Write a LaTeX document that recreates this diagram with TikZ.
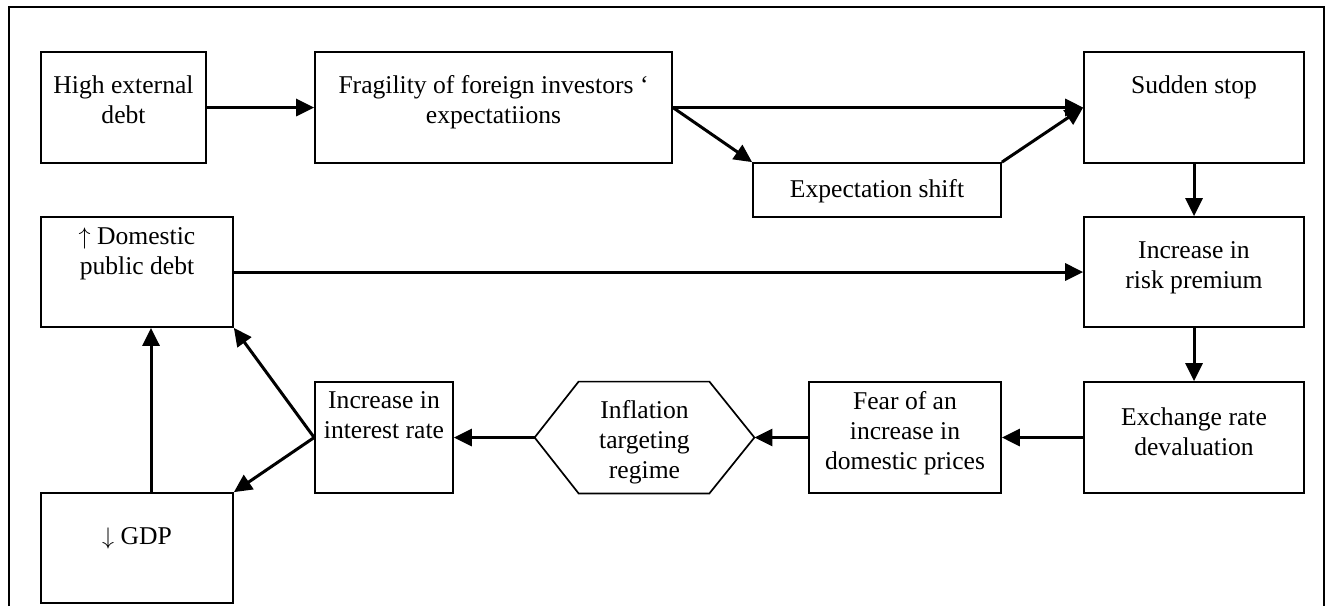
\documentclass[tikz,border=0pt]{standalone}
\usepackage{fontspec}
\setmainfont{Liberation Serif}
\usetikzlibrary{arrows.meta,positioning}

\begin{document}
\begin{tikzpicture}[x=0.5pt,y=-0.5pt,
    box/.style={draw,line width=0.85pt,inner sep=0pt},
    txt/.style={inner sep=0pt,align=center,font=\fontsize{12.8}{15}\selectfont},
    link/.style={line width=1.5pt,-{Triangle[length=9pt,width=8.5pt]}}]
  \useasboundingbox (0,0) rectangle (1327,606);
  % outer frame
  \draw[line width=1pt] (9,606) -- (9,7) -- (1324,7) -- (1324,606);
  % top row
  \node[box,minimum width=82.5pt,minimum height=55.5pt] (high) at (123.5,107.5) {};
  \node[box,minimum width=178.5pt,minimum height=55.5pt] (frag) at (493.5,107.5) {};
  \node[box,minimum width=110pt,minimum height=55.5pt] (stop) at (1194,107.5) {};
  \node[box,minimum width=124pt,minimum height=27pt] (shift) at (877,190) {};
  % middle row
  \node[box,minimum width=96pt,minimum height=55pt] (debt) at (137,272) {};
  \node[box,minimum width=110pt,minimum height=55pt] (risk) at (1194,272) {};
  % bottom row
  \node[box,minimum width=96pt,minimum height=55pt] (gdp) at (137,548) {};
  \node[box,minimum width=69pt,minimum height=55.5pt] (rate) at (384,437.5) {};
  \node[inner sep=0pt,minimum width=109.5pt,minimum height=55.5pt] (hex) at (644.5,437.5) {};
  \draw[line width=0.85pt] (hex.west) -- ([xshift=22pt]hex.north west)
    -- ([xshift=-22.5pt]hex.north east) -- (hex.east)
    -- ([xshift=-22.5pt]hex.south east) -- ([xshift=22pt]hex.south west) -- cycle;
  \node[box,minimum width=96pt,minimum height=55.5pt] (fear) at (905,437.5) {};
  \node[box,minimum width=110pt,minimum height=55.5pt] (exch) at (1194,437.5) {};
  % texts
  \node[txt,below=12pt of high.north] (hightxt) {High external\\debt};
  \node[txt,below=12pt of frag.north] (fragtxt) {Fragility of foreign investors ‘\\expectatiions};
  \node[txt,below=12pt of stop.north] (stoptxt) {Sudden stop};
  \node[txt,below=8.5pt of shift.north] (shifttxt) {Expectation shift};
  \node[txt,below=5.5pt of debt.north] (debttxt) {$\uparrow$ Domestic\\public debt};
  \node[txt,below=12.5pt of risk.north] (risktxt) {Increase in\\risk premium};
  \node[txt,below=17.5pt of gdp.north] (gdptxt) {$\downarrow$ GDP};
  \node[txt,below=5pt of rate.north] (ratetxt) {Increase in\\interest rate};
  \node[txt,below=9pt of hex.north] (hextxt) {Inflation\\targeting\\regime};
  \node[txt,below=5pt of fear.north] (feartxt) {Fear of an\\increase in\\domestic prices};
  \node[txt,below=13pt of exch.north] (exchtxt) {Exchange rate\\devaluation};
  % connectors
  \draw[link] (high.east) -- (frag.west);
  \draw[link] (frag.east) -- (stop.west);
  \draw[link] (frag.east) -- (shift.north west);
  \draw[link] (shift.north east) -- (stop.west);
  \draw[link] (stop.south) -- (risk.north);
  \draw[link] (debt.east) -- (risk.west);
  \draw[link] (risk.south) -- (exch.north);
  \draw[link] (exch.west) -- (fear.east);
  \draw[link] (fear.west) -- (hex.east);
  \draw[link] (hex.west) -- (rate.east);
  \draw[link] (rate.west) -- (debt.south east);
  \draw[link] (rate.west) -- (gdp.north east);
  \draw[link] ([xshift=7pt]gdp.north) -- ([xshift=7pt]debt.south);
\end{tikzpicture}
\end{document}
